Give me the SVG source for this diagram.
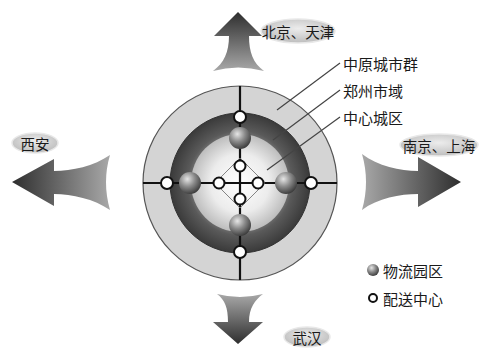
<svg xmlns="http://www.w3.org/2000/svg" width="479" height="350" viewBox="0 0 479 350">
<defs>
<linearGradient id="gUp" x1="0" y1="0" x2="0" y2="1"><stop offset="0" stop-color="#2e2e2e"/><stop offset="1" stop-color="#a8a8a8"/></linearGradient>
<linearGradient id="gDown" x1="0" y1="1" x2="0" y2="0"><stop offset="0" stop-color="#2e2e2e"/><stop offset="1" stop-color="#a8a8a8"/></linearGradient>
<linearGradient id="gLeft" x1="0" y1="0" x2="1" y2="0"><stop offset="0" stop-color="#2e2e2e"/><stop offset="1" stop-color="#a8a8a8"/></linearGradient>
<linearGradient id="gRight" x1="1" y1="0" x2="0" y2="0"><stop offset="0" stop-color="#2e2e2e"/><stop offset="1" stop-color="#a8a8a8"/></linearGradient>
<radialGradient id="gDark" cx="0.5" cy="0.5" r="0.5"><stop offset="0.6" stop-color="#8a8a8a"/><stop offset="0.75" stop-color="#5a5a5a"/><stop offset="1" stop-color="#3a3a3a"/></radialGradient>
<radialGradient id="gInner" cx="0.5" cy="0.5" r="0.5"><stop offset="0" stop-color="#ffffff"/><stop offset="0.6" stop-color="#ececec"/><stop offset="1" stop-color="#bdbdbd"/></radialGradient>
<radialGradient id="gBall" cx="0.38" cy="0.32" r="0.7"><stop offset="0" stop-color="#e6e6e6"/><stop offset="0.5" stop-color="#8a8a8a"/><stop offset="1" stop-color="#3c3c3c"/></radialGradient>
<radialGradient id="gTag" cx="0.5" cy="0.4" r="0.6"><stop offset="0" stop-color="#ececec"/><stop offset="1" stop-color="#bdbdbd"/></radialGradient>
</defs>
<style>
.t{font-family:"Noto Sans CJK SC","Liberation Sans",sans-serif;font-size:15px;fill:#1a1a1a;dominant-baseline:central}
.s{font-size:14.5px}
.tag{fill:url(#gTag);stroke:#e8e8e8;stroke-width:1.5}
.dc{fill:#fff;stroke:#111;stroke-width:2}
.ball{fill:url(#gBall)}
.lead{stroke:#444;stroke-width:1.2;fill:none}
.axis{stroke:#111;stroke-width:2.2}
</style>

<g id="arrow-north"><path d="M238,12 L214,36 L229,36 C229,52 224,63 213,71 Q238,64 264,71 C253,63 249,52 249,36 L262,36 Z" fill="url(#gUp)"/></g>
<g id="arrow-west"><path d="M12,182 L54,159 L54,171 C72,171 94,166 110,155 Q102,182 110,210 C94,199 72,194 54,194 L54,206 Z" fill="url(#gLeft)"/></g>
<g id="arrow-east"><path d="M461,182 L418,157 L418,171 C400,171 378,166 362,154 Q370,182 362,210 C378,198 400,194 418,194 L418,207 Z" fill="url(#gRight)"/></g>
<g id="arrow-south"><path d="M238,344 L213,322 L228,322 C228,308 225,300 217,294 Q240,300 263,294 C255,300 249,308 249,322 L263,322 Z" fill="url(#gDown)"/></g>

<g id="tag-beijing"><ellipse class="tag" cx="298" cy="31" rx="37" ry="12"/><text class="t s" x="298" y="31" text-anchor="middle">北京、天津</text></g>
<g id="tag-xian"><ellipse class="tag" cx="35" cy="143" rx="23" ry="10"/><text class="t s" x="35" y="143" text-anchor="middle">西安</text></g>
<g id="tag-nanjing"><ellipse class="tag" cx="439" cy="145" rx="39" ry="11"/><text class="t s" x="439" y="145" text-anchor="middle">南京、上海</text></g>
<g id="tag-wuhan"><ellipse class="tag" cx="307" cy="337" rx="23" ry="10"/><text class="t s" x="307" y="337" text-anchor="middle">武汉</text></g>

<g id="ring-outer"><circle cx="240" cy="183" r="97" fill="#d4d4d4" stroke="#555" stroke-width="1.2"/></g>
<g id="ring-zhengzhou"><circle cx="240" cy="183" r="70" fill="url(#gDark)" stroke="#333" stroke-width="1"/></g>
<g id="ring-center"><circle cx="240" cy="183" r="49" fill="url(#gInner)"/></g>

<g id="connectors">
<line class="axis" x1="240" y1="86" x2="240" y2="280"/>
<line class="axis" x1="143" y1="183" x2="337" y2="183"/>
<path d="M215,183 L240,158 L265,183 L240,208 Z" fill="none" stroke="#777" stroke-width="0.9"/>
<line class="lead" x1="277" y1="110" x2="340" y2="63"/>
<line class="lead" x1="273" y1="140" x2="340" y2="90"/>
<line class="lead" x1="267" y1="170" x2="340" y2="117"/>
</g>

<g id="parks">
<circle class="ball" cx="240" cy="138" r="11"/>
<circle class="ball" cx="190" cy="183" r="11"/>
<circle class="ball" cx="286" cy="183" r="11"/>
<circle class="ball" cx="240" cy="225" r="11"/>
</g>
<g id="centers">
<circle class="dc" cx="240" cy="117" r="6"/>
<circle class="dc" cx="167" cy="183" r="6"/>
<circle class="dc" cx="311" cy="183" r="6"/>
<circle class="dc" cx="240" cy="252" r="6"/>
<circle class="dc" cx="240" cy="166" r="5.5"/>
<circle class="dc" cx="240" cy="199" r="5.5"/>
<circle class="dc" cx="219" cy="183" r="5.5"/>
<circle class="dc" cx="258" cy="183" r="5.5"/>
</g>

<g id="labels">
<text class="t" x="343" y="63">中原城市群</text>
<text class="t" x="343" y="90">郑州市域</text>
<text class="t" x="343" y="117">中心城区</text>
</g>

<g id="legend">
<circle class="ball" cx="373" cy="270" r="6"/>
<text class="t" x="383" y="270">物流园区</text>
<circle cx="373" cy="298" r="4" fill="#fff" stroke="#111" stroke-width="2"/>
<text class="t" x="383" y="298">配送中心</text>
</g>
</svg>
